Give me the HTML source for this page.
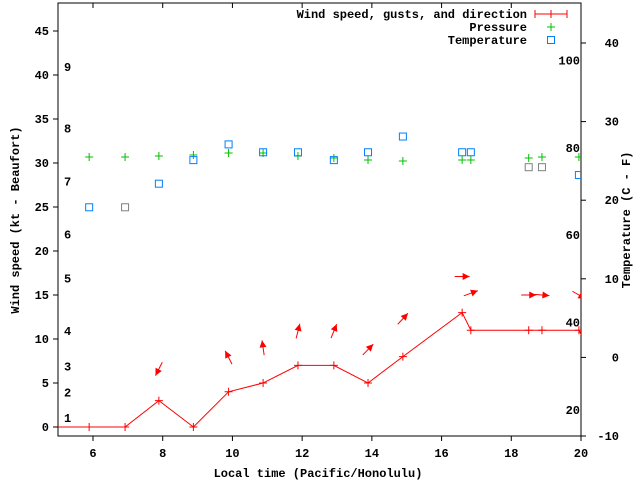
<!DOCTYPE html>
<html><head><meta charset="utf-8"><style>
body{margin:0;background:#fff}
svg text{font-family:"Liberation Mono","DejaVu Sans Mono",monospace;font-size:12px;font-weight:bold;fill:#000}
</style></head><body>
<svg id="chart" width="640" height="480" viewBox="0 0 640 480" xmlns="http://www.w3.org/2000/svg">
<defs><clipPath id="clip"><rect x="58" y="3" width="523" height="433"/></clipPath></defs>
<g id="axes"></g>
<g id="plot" clip-path="url(#clip)"></g>
<g id="legend"></g>
</svg>
<script>
const xTicks = [6, 8, 10, 12, 14, 16, 18, 20];
const yTicks = [0, 5, 10, 15, 20, 25, 30, 35, 40, 45];
const cTicks = [-10, 0, 10, 20, 30, 40];
const fTicks = [20, 40, 60, 80, 100];
const beaufort = [1, 2, 3, 4, 5, 6, 7, 8, 9];
const beaufortKt = [1.0, 3.9, 6.9, 10.9, 16.9, 21.9, 27.9, 33.9, 40.9];
const windTimes = [4.9, 5.89, 6.92, 7.89, 8.88, 9.89, 10.88, 11.88, 12.91, 13.89, 14.89, 16.59, 16.84, 18.5, 18.88, 19.94, 20.2];
const windSpeed = [0, 0, 0, 3, 0, 4, 5, 7, 7, 5, 8, 13, 11, 11, 11, 11, 9];
const arrowTimes = [7.89, 9.89, 10.88, 11.88, 12.91, 13.89, 14.89, 16.59, 16.84, 18.5, 18.88, 19.94];
const arrowKt = [6.6, 7.9, 9.0, 10.9, 10.9, 8.8, 12.3, 17.1, 15.2, 15.0, 15.0, 15.0];
const arrowDir = [243, 117, 98, 76, 68, 46, 47, 0, 20, 0, -5, -30];
const obsTimes = [5.89, 6.92, 7.89, 8.88, 9.89, 10.88, 11.88, 12.91, 13.89, 14.89, 16.59, 16.84, 18.5, 18.88, 19.94];
const tempC = [19.1, 19.1, 22.1, 25.1, 27.1, 26.1, 26.1, 25.1, 26.1, 28.1, 26.1, 26.1, 24.2, 24.2, 23.2];
const tempStale = [false, true, false, false, false, false, false, false, false, false, false, false, true, true, false];
const pressure = [1015.0, 1015.0, 1015.1, 1015.2, 1015.4, 1015.4, 1015.1, 1014.9, 1014.7, 1014.6, 1014.7, 1014.7, 1014.9, 1015.0, 1015.0];

const L=58,R=581,T=3,B=436,NS="http://www.w3.org/2000/svg";
const X=h=>93+(h-6)*(R-93)/14;
const Y=v=>427-v*8.8;
const YC=c=>357.4-c*7.86;
const YF=f=>YC((f-32)*5/9);
const YP=p=>157-(p-1015)*10;
function mk(tag,attrs,parent,txt){const e=document.createElementNS(NS,tag);for(const k in attrs)e.setAttribute(k,attrs[k]);if(txt!==undefined)e.textContent=txt;document.getElementById(parent).appendChild(e);return e;}
let e;
e=mk('rect',{x:L,y:T,width:R-L,height:B-T,fill:'none',stroke:'#000','stroke-width':1},'axes');


xTicks.forEach(t=>{const x=X(t);
 mk('line',{x1:x,y1:B,x2:x,y2:B+5,stroke:'#000'},'axes');
 mk('line',{x1:x,y1:T,x2:x,y2:T+5,stroke:'#000'},'axes');
 e=mk('text',{x:x,y:B+21,'text-anchor':'middle'},'axes',t);
 
 });
yTicks.forEach(t=>{const y=Y(t);
 mk('line',{x1:L-5,y1:y,x2:L,y2:y,stroke:'#000'},'axes');
 e=mk('text',{x:L-9,y:y+4,'text-anchor':'end'},'axes',t);
 
 });
cTicks.forEach(t=>{const y=YC(t);
 mk('line',{x1:R,y1:y,x2:R+5,y2:y,stroke:'#000'},'axes');
 e=mk('text',{x:R+38,y:y+4,'text-anchor':'end'},'axes',t);
 
 });
fTicks.forEach(t=>{const y=YF(t);
 e=mk('text',{x:R-1,y:y+4,'text-anchor':'end'},'axes',t);
 
 });
beaufort.forEach((b,i)=>{
 e=mk('text',{x:64,y:Y(beaufortKt[i])+4},'axes',b);
 
 });
e=mk('text',{x:318,y:477,'text-anchor':'middle'},'axes','Local time (Pacific/Honolulu)');


e=mk('text',{x:19,y:220,'text-anchor':'middle',transform:'rotate(-90 19 220)'},'axes','Wind speed (kt - Beaufort)');


e=mk('text',{x:630,y:220,'text-anchor':'middle',transform:'rotate(-90 630 220)'},'axes','Temperature (C - F)');



const pts=windTimes.map((t,i)=>X(t)+','+Y(windSpeed[i])).join(' ');
e=mk('polyline',{points:pts,fill:'none',stroke:'#f00','stroke-width':1},'plot');


windTimes.forEach((t,i)=>{const x=X(t),y=Y(windSpeed[i]);
 e=mk('path',{d:`M${x-4},${y}h8M${x},${y-4}v8`,stroke:'#f00','stroke-width':1},'plot');
 
 });
arrowTimes.forEach((t,i)=>{const cx=X(t),cy=Y(arrowKt[i]),a=arrowDir[i]*Math.PI/180,len=15;
 const dx=Math.cos(a)*len/2,dy=-Math.sin(a)*len/2;
 const x1=cx-dx,y1=cy-dy,x2=cx+dx,y2=cy+dy;
 const ux=dx/(len/2),uy=dy/(len/2),hx=x2-ux*7,hy=y2-uy*7;
 const px=-uy*3.5,py=ux*3.5;
 const g=mk('g',{},'plot');
 
 
 const l=document.createElementNS(NS,'line');l.setAttribute('x1',x1);l.setAttribute('y1',y1);l.setAttribute('x2',x2);l.setAttribute('y2',y2);l.setAttribute('stroke','#f00');g.appendChild(l);
 const p=document.createElementNS(NS,'polygon');p.setAttribute('points',`${x2},${y2} ${hx+px},${hy+py} ${hx-px},${hy-py}`);p.setAttribute('fill','#f00');g.appendChild(p);});
obsTimes.forEach((t,i)=>{const x=X(t),y=YP(pressure[i]);
 e=mk('path',{d:`M${x-4},${y}h8M${x},${y-4}v8`,stroke:'#00c000','stroke-width':1},'plot');
 
 });
obsTimes.forEach((t,i)=>{const x=X(t),y=YC(tempC[i]);
 e=mk('rect',{x:x-3.5,y:y-3.5,width:7,height:7,fill:'none',stroke:tempStale[i]?'#808080':'#0080ff','stroke-width':1},'plot');
 
 });
e=mk('text',{x:527,y:18,'text-anchor':'end'},'legend','Wind speed, gusts, and direction');


e=mk('path',{d:'M535,14h32M535,10v8M567,10v8M551,10v8',stroke:'#f00'},'legend');


e=mk('text',{x:527,y:31,'text-anchor':'end'},'legend','Pressure');


e=mk('path',{d:'M547,27h8M551,23v8',stroke:'#00c000'},'legend');


e=mk('text',{x:527,y:44,'text-anchor':'end'},'legend','Temperature');


e=mk('rect',{x:547.5,y:36.5,width:7,height:7,fill:'none',stroke:'#0080ff'},'legend');


</script>
</body></html>
